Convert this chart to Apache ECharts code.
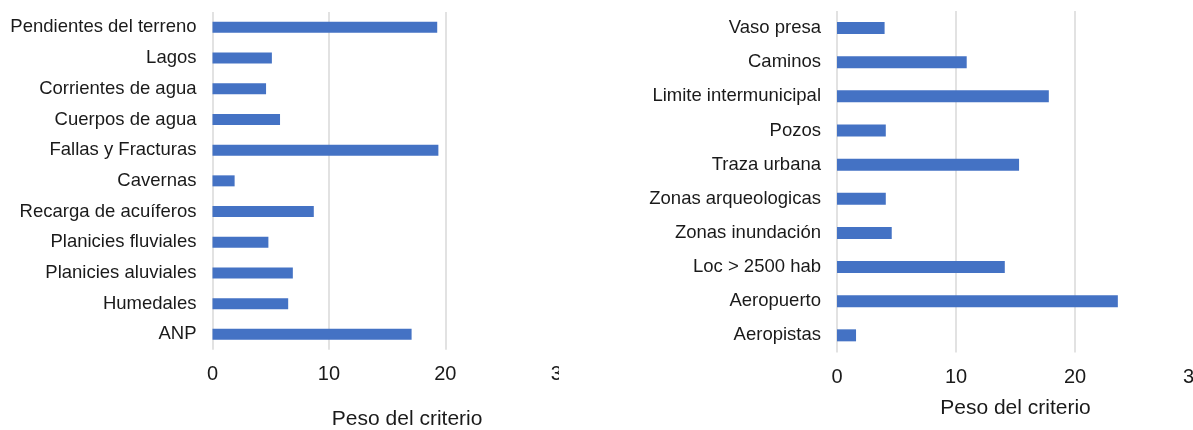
<!DOCTYPE html>
<html>
<head>
<meta charset="utf-8">
<script src="https://cdn.jsdelivr.net/npm/echarts@6/dist/echarts.min.js"></script>
<style>
  html, body { margin: 0; padding: 0; background: #ffffff; }
  #page { position: relative; width: 1193px; height: 430px; overflow: hidden; }
  .clip { position: absolute; top: 0; height: 430px; overflow: hidden; }
  .chart { position: absolute; left: 0; top: 0; width: 640px; height: 430px; }
</style>
</head>
<body>
<div id="page">
  <div class="clip" style="left:0; width:559px;"><div id="left" class="chart"></div></div>
  <div class="clip" style="left:600px; width:593px;"><div id="right" class="chart"></div></div>
</div>
<script>
// Natural / physical criteria and their weights
const naturalCriteria = [
  'Pendientes del terreno', 'Lagos', 'Corrientes de agua', 'Cuerpos de agua',
  'Fallas y Fracturas', 'Cavernas', 'Recarga de acuíferos', 'Planicies fluviales',
  'Planicies aluviales', 'Humedales', 'ANP'
];
const naturalWeights = [19.3, 5.1, 4.6, 5.8, 19.4, 1.9, 8.7, 4.8, 6.9, 6.5, 17.1];

// Infrastructure / social criteria and their weights
const socialCriteria = [
  'Vaso presa', 'Caminos', 'Limite intermunicipal', 'Pozos', 'Traza urbana',
  'Zonas arqueologicas', 'Zonas inundación', 'Loc > 2500 hab', 'Aeropuerto', 'Aeropistas'
];
const socialWeights = [4.0, 10.9, 17.8, 4.1, 15.3, 4.1, 4.6, 14.1, 23.6, 1.6];

const axisTitle = 'Peso del criterio';
const xMin = 0, xMax = 30, xStep = 10;

const FONT = '"Liberation Sans", Arial, sans-serif';
const TEXT = '#1a1a1a';
const GRID = '#d9d9d9';
const BAR = '#4472c4';

function buildOption(cats, vals, g, barW, nameGap, namePad) {
  return {
    animation: false,
    grid: {
      left: g.left, top: g.top, width: g.width, height: g.height,
      containLabel: false, outerBoundsMode: 'none'
    },
    xAxis: {
      type: 'value', min: xMin, max: xMax, interval: xStep,
      name: axisTitle, nameLocation: 'middle', nameGap: nameGap,
      nameTextStyle: { fontFamily: FONT, fontSize: 21, color: TEXT, padding: namePad },
      axisLine: { show: false }, axisTick: { show: false },
      axisLabel: { fontFamily: FONT, fontSize: 20, color: TEXT, margin: 15 },
      splitLine: { show: true, lineStyle: { color: GRID, width: 1.5 } }
    },
    yAxis: {
      type: 'category', data: cats, inverse: true,
      axisLine: { show: false }, axisTick: { show: false },
      axisLabel: { fontFamily: FONT, fontSize: 18.5, color: TEXT, margin: 16 }
    },
    series: [{
      type: 'bar', data: vals, barWidth: barW,
      itemStyle: { color: BAR }
    }]
  };
}

const leftChart = echarts.init(document.getElementById('left'), null, { renderer: 'canvas' });
leftChart.setOption(buildOption(naturalCriteria, naturalWeights,
  { left: 212.5, top: 12, width: 349.3, height: 337.7 }, 11, 59, [0, 0, 0, 40]));

const rightChart = echarts.init(document.getElementById('right'), null, { renderer: 'canvas' });
rightChart.setOption(buildOption(socialCriteria, socialWeights,
  { left: 237, top: 11, width: 357, height: 341.4 }, 12, 45, [0, 0, 0, 0]));
</script>
</body>
</html>
